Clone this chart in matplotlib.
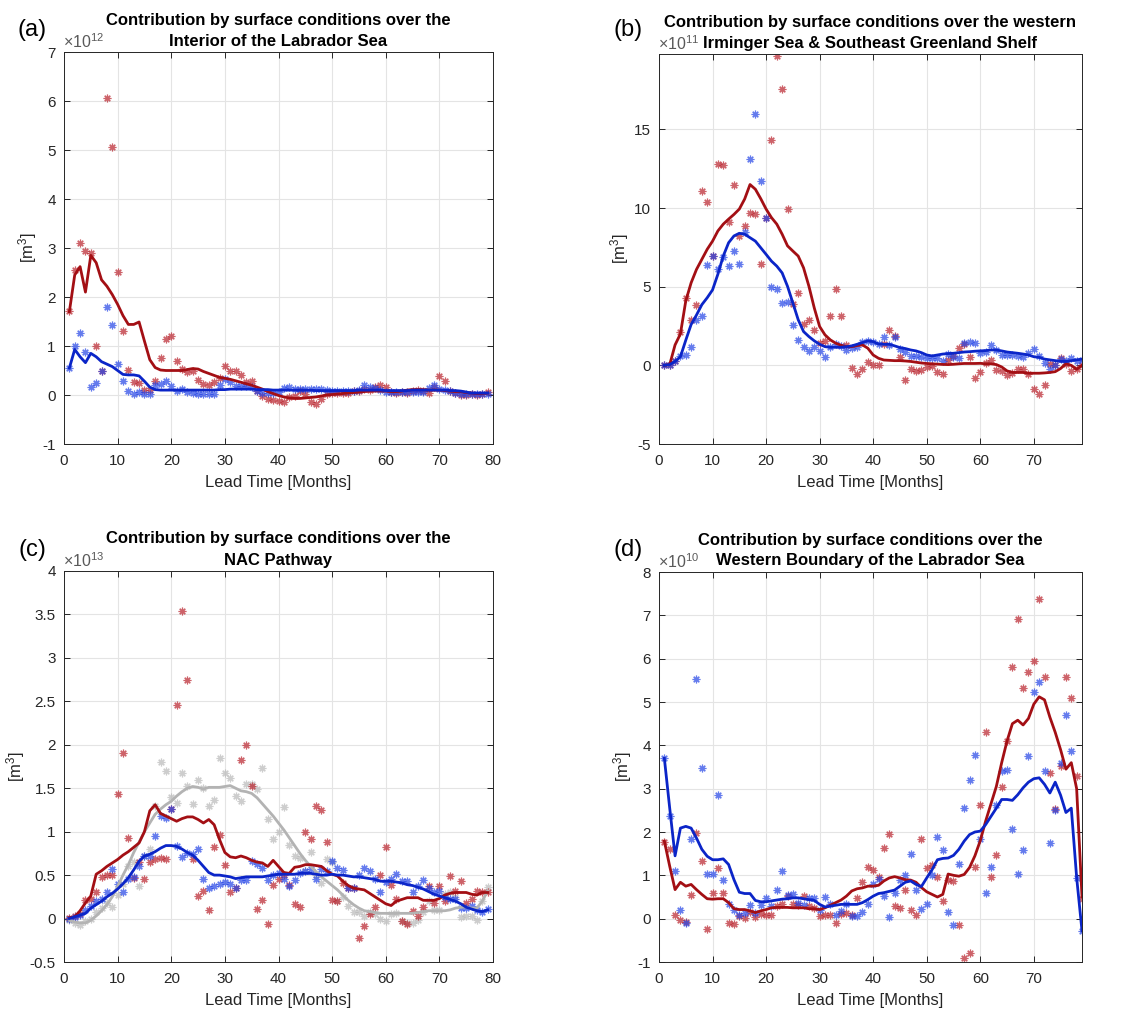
import numpy as np
import matplotlib
matplotlib.use("Agg")
import matplotlib.pyplot as plt

plt.rcParams["font.family"] = ["Liberation Sans", "DejaVu Sans"]
plt.rcParams["mathtext.fontset"] = "custom"
plt.rcParams["mathtext.rm"] = "Liberation Sans"
plt.rcParams["mathtext.it"] = "Liberation Sans:italic"
plt.rcParams["mathtext.bf"] = "Liberation Sans:bold"
plt.rcParams["axes.unicode_minus"] = False

# Lead time in months
lead = np.arange(1, 80)

# ---- (a) Interior of the Labrador Sea, values in 1e12 m^3 ----
a_red_pts = [1.72, 2.55, 3.10, 2.94, 2.89, 1.00, 0.50, 6.06, 5.07, 2.52,
             1.30, 0.51, 0.26, 0.24, 0.11, 0.10, 0.29, 0.75, 1.14, 1.20,
             0.69, 0.53, 0.46, 0.48, 0.30, 0.22, 0.21, 0.26, 0.34, 0.60,
             0.48, 0.49, 0.41, 0.26, 0.29, 0.09, -0.03, -0.09, -0.10, -0.12,
             -0.15, -0.05, -0.03, 0.09, 0.02, -0.15, -0.19, -0.08, 0.02, 0.05,
             0.04, 0.05, 0.05, 0.09, 0.09, 0.12, 0.11, 0.16, 0.21, 0.17,
             0.07, 0.05, 0.07, 0.05, 0.09, 0.11, 0.09, 0.05, 0.16, 0.38,
             0.29, 0.09, 0.04, 0.00, 0.00, 0.02, 0.01, 0.03, 0.06]
a_red_line = [1.70, 2.45, 2.62, 2.10, 2.85, 2.70, 2.35, 2.22, 2.05, 1.85,
              1.62, 1.44, 1.44, 1.49, 1.10, 0.72, 0.56, 0.51, 0.50, 0.50,
              0.50, 0.50, 0.52, 0.54, 0.53, 0.48, 0.44, 0.40, 0.36, 0.34,
              0.32, 0.29, 0.26, 0.23, 0.20, 0.16, 0.12, 0.07, 0.03, -0.01,
              -0.04, -0.06, -0.07, -0.07, -0.06, -0.05, -0.04, -0.02, 0.00, 0.01,
              0.02, 0.03, 0.04, 0.05, 0.06, 0.07, 0.08, 0.08, 0.08, 0.08,
              0.07, 0.07, 0.08, 0.10, 0.11, 0.11, 0.11, 0.10, 0.10, 0.10,
              0.09, 0.08, 0.07, 0.07, 0.05, 0.04, 0.03, 0.03, 0.04]
a_blue_pts = [0.55, 1.00, 1.27, 0.87, 0.17, 0.24, 0.50, 1.79, 1.43, 0.63,
              0.28, 0.09, 0.03, 0.07, 0.03, 0.03, 0.20, 0.23, 0.29, 0.19,
              0.08, 0.12, 0.07, 0.04, 0.03, 0.03, 0.03, 0.03, 0.21, 0.33,
              0.27, 0.19, 0.19, 0.19, 0.16, 0.09, 0.05, 0.04, 0.05, 0.07,
              0.14, 0.16, 0.13, 0.12, 0.13, 0.12, 0.13, 0.12, 0.10, 0.08,
              0.08, 0.08, 0.08, 0.08, 0.10, 0.20, 0.16, 0.15, 0.10, 0.06,
              0.06, 0.06, 0.06, 0.06, 0.06, 0.06, 0.07, 0.15, 0.20, 0.13,
              0.10, 0.08, 0.05, 0.02, 0.02, 0.02, 0.02, 0.02, 0.02]
a_blue_line = [0.55, 0.93, 0.78, 0.66, 0.85, 0.78, 0.68, 0.63, 0.58, 0.50,
               0.42, 0.41, 0.41, 0.39, 0.28, 0.16, 0.11, 0.10, 0.10, 0.10,
               0.10, 0.10, 0.10, 0.10, 0.10, 0.10, 0.10, 0.10, 0.11, 0.11,
               0.12, 0.12, 0.12, 0.12, 0.12, 0.11, 0.11, 0.11, 0.10, 0.10,
               0.10, 0.10, 0.10, 0.10, 0.10, 0.10, 0.09, 0.09, 0.09, 0.09,
               0.09, 0.09, 0.09, 0.09, 0.10, 0.10, 0.10, 0.10, 0.10, 0.09,
               0.09, 0.09, 0.09, 0.09, 0.10, 0.10, 0.10, 0.10, 0.10, 0.10,
               0.10, 0.09, 0.09, 0.08, 0.06, 0.04, 0.04, 0.04, 0.04]

# ---- (b) western Irminger Sea & SE Greenland Shelf, values in 1e11 m^3 ----
b_red_pts = [0.00, 0.00, 0.30, 2.10, 4.26, 2.86, 3.82, 11.07, 10.40, 6.97,
             12.80, 12.77, 9.10, 11.50, 8.25, 8.87, 9.72, 9.62, 6.44, 9.38,
             14.36, 19.70, 17.55, 9.95, 3.92, 4.63, 2.62, 2.88, 2.26, 1.41,
             1.56, 3.16, 4.88, 3.16, 1.30, -0.15, -0.58, -0.21, 0.21, 0.04,
             0.04, 1.36, 2.26, 1.88, 0.55, -0.90, -0.26, -0.34, -0.30, -0.13,
             -0.06, -0.40, -0.58, 0.34, 0.60, 1.09, 1.34, 0.51, -0.83, -0.40,
             0.13, 0.34, -0.30, -0.34, -0.62, -0.50, -0.26, -0.26, -0.58, -1.49,
             -1.83, -1.22, 0.10, 0.00, 0.45, 0.10, -0.35, -0.20, 0.00]
b_red_line = [0.00, 0.05, 1.30, 2.00, 4.10, 5.25, 6.10, 6.74, 7.38, 7.90,
              8.55, 8.98, 9.30, 9.60, 9.94, 10.58, 11.50, 11.20, 10.60, 9.94,
              9.40, 8.98, 8.34, 7.60, 7.27, 6.95, 6.20, 5.03, 3.65, 2.47,
              1.94, 1.62, 1.41, 1.28, 1.19, 1.19, 1.26, 1.30, 1.09, 0.66,
              0.45, 0.34, 0.32, 0.30, 0.30, 0.28, 0.25, 0.20, 0.15, 0.12,
              0.10, 0.08, 0.06, 0.05, 0.07, 0.10, 0.12, 0.12, 0.12, 0.13,
              0.10, 0.10, 0.05, -0.10, -0.35, -0.45, -0.45, -0.45, -0.50, -0.50,
              -0.50, -0.48, -0.45, -0.40, -0.20, 0.10, 0.00, -0.25, 0.00]
b_blue_pts = [0.00, 0.05, 0.30, 0.60, 0.66, 1.19, 2.90, 3.11, 6.38, 6.97,
              6.14, 6.90, 6.35, 7.27, 6.44, 8.49, 13.15, 15.96, 11.75, 9.38,
              5.00, 4.84, 3.97, 4.00, 2.54, 1.60, 1.15, 0.90, 1.15, 0.90,
              0.51, 1.19, 1.36, 1.24, 0.98, 1.09, 1.19, 1.51, 1.56, 1.51,
              1.36, 1.83, 1.30, 1.83, 1.02, 0.87, 0.60, 0.60, 0.55, 0.45,
              0.45, 0.45, 0.30, 0.70, 0.55, 0.45, 1.45, 1.47, 1.45, 0.77,
              0.87, 1.30, 0.98, 0.66, 0.66, 0.66, 0.60, 0.55, 0.77, 1.02,
              0.60, 0.17, -0.20, 0.05, 0.40, 0.25, 0.45, 0.30, 0.35]
b_blue_line = [0.00, 0.05, 0.25, 0.55, 1.60, 2.60, 3.20, 3.86, 4.30, 4.80,
               5.80, 6.95, 7.80, 8.23, 8.40, 8.34, 8.12, 7.90, 7.48, 7.06,
               6.63, 6.31, 5.88, 5.03, 3.97, 2.90, 2.15, 1.83, 1.56, 1.34,
               1.19, 1.15, 1.15, 1.15, 1.19, 1.24, 1.34, 1.45, 1.56, 1.51,
               1.36, 1.34, 1.34, 1.24, 1.13, 1.07, 0.98, 0.92, 0.81, 0.66,
               0.60, 0.66, 0.72, 0.75, 0.77, 0.81, 0.85, 0.87, 0.90, 0.92,
               0.94, 0.98, 0.98, 0.92, 0.85, 0.81, 0.77, 0.72, 0.66, 0.55,
               0.51, 0.40, 0.35, 0.30, 0.25, 0.25, 0.30, 0.35, 0.40]

# ---- (c) NAC Pathway, values in 1e13 m^3 ----
c_red_pts = [0.01, 0.03, 0.05, 0.21, 0.22, 0.30, 0.48, 0.50, 0.50, 1.43,
             1.91, 0.93, 0.47, 0.65, 0.45, 0.65, 0.68, 0.70, 0.69, 1.26,
             2.46, 3.54, 2.75, 0.68, 0.26, 0.32, 0.10, 0.82, 0.96, 0.62,
             0.31, 0.35, 1.82, 2.00, 1.52, 0.11, 0.21, -0.06, 0.39, 0.45,
             0.50, 0.39, 0.17, 0.13, 1.00, 0.91, 1.29, 1.25, 0.88, 0.21,
             0.20, 0.41, 0.35, 0.35, -0.22, -0.08, 0.05, 0.13, 0.50, 0.82,
             0.39, 0.22, -0.03, -0.06, 0.09, 0.03, 0.13, 0.38, 0.18, 0.38,
             0.20, 0.49, 0.32, 0.43, 0.18, 0.23, 0.32, 0.30, 0.30]
c_red_line = [0.01, 0.02, 0.09, 0.18, 0.26, 0.51, 0.55, 0.60, 0.64, 0.68,
              0.73, 0.77, 0.82, 0.87, 1.00, 1.24, 1.31, 1.21, 1.18, 1.15,
              1.12, 1.15, 1.17, 1.17, 1.14, 1.10, 1.14, 1.08, 0.91, 0.76,
              0.71, 0.70, 0.72, 0.70, 0.67, 0.65, 0.64, 0.60, 0.67, 0.60,
              0.53, 0.52, 0.59, 0.60, 0.62, 0.62, 0.61, 0.60, 0.55, 0.51,
              0.49, 0.43, 0.38, 0.35, 0.34, 0.33, 0.29, 0.25, 0.21, 0.17,
              0.15, 0.20, 0.22, 0.24, 0.24, 0.24, 0.21, 0.21, 0.21, 0.23,
              0.27, 0.29, 0.30, 0.30, 0.30, 0.28, 0.27, 0.30, 0.30]
c_blue_pts = [0.00, 0.02, 0.04, 0.10, 0.15, 0.20, 0.22, 0.30, 0.57, 0.40,
              0.31, 0.45, 0.48, 0.60, 0.72, 0.72, 0.95, 1.18, 1.16, 1.26,
              0.84, 0.71, 0.76, 0.74, 0.80, 0.45, 0.35, 0.37, 0.40, 0.42,
              0.40, 0.35, 0.44, 0.44, 0.66, 0.63, 0.58, 0.44, 0.50, 0.52,
              0.46, 0.37, 0.44, 0.53, 0.55, 0.57, 0.46, 0.57, 0.55, 0.66,
              0.58, 0.56, 0.35, 0.35, 0.50, 0.58, 0.55, 0.45, 0.30, 0.42,
              0.46, 0.51, 0.43, 0.43, 0.30, 0.38, 0.44, 0.35, 0.30, 0.32,
              0.25, 0.22, 0.22, 0.12, 0.12, 0.15, 0.10, 0.08, 0.11]
c_blue_line = [0.00, 0.02, 0.04, 0.06, 0.12, 0.16, 0.20, 0.25, 0.29, 0.34,
               0.40, 0.47, 0.56, 0.66, 0.72, 0.74, 0.77, 0.81, 0.84, 0.84,
               0.83, 0.80, 0.76, 0.73, 0.67, 0.60, 0.53, 0.50, 0.50, 0.49,
               0.48, 0.46, 0.47, 0.48, 0.48, 0.48, 0.48, 0.49, 0.50, 0.51,
               0.51, 0.51, 0.51, 0.52, 0.52, 0.52, 0.51, 0.50, 0.50, 0.51,
               0.50, 0.50, 0.49, 0.48, 0.48, 0.47, 0.46, 0.45, 0.43, 0.43,
               0.43, 0.42, 0.41, 0.39, 0.38, 0.36, 0.34, 0.31, 0.28, 0.26,
               0.24, 0.22, 0.20, 0.17, 0.13, 0.11, 0.09, 0.08, 0.10]
c_grey_pts = [-0.02, -0.05, -0.07, -0.03, 0.00, 0.08, 0.12, 0.18, 0.13, 0.27,
              0.40, 0.60, 0.65, 0.37, 0.72, 0.80, 1.30, 1.80, 1.70, 1.40,
              1.33, 1.67, 1.53, 1.32, 1.59, 1.50, 1.30, 1.37, 1.85, 1.68,
              1.62, 1.41, 1.35, 1.55, 1.55, 1.49, 1.73, 1.15, 0.92, 1.00,
              1.28, 0.85, 0.72, 0.70, 0.55, 0.77, 0.50, 0.41, 0.68, 0.65,
              0.20, 0.25, 0.15, 0.08, 0.08, 0.03, 0.08, 0.05, -0.01, -0.03,
              0.05, 0.06, -0.03, -0.05, -0.05, -0.02, 0.08, 0.20, 0.10, 0.10,
              0.28, 0.30, 0.25, 0.02, 0.03, 0.03, -0.02, 0.20, 0.36]
c_grey_line = [-0.02, -0.04, -0.05, -0.05, -0.02, 0.03, 0.09, 0.16, 0.25, 0.37,
               0.50, 0.62, 0.76, 0.88, 1.00, 1.10, 1.20, 1.26, 1.31, 1.35,
               1.41, 1.46, 1.50, 1.52, 1.51, 1.49, 1.51, 1.51, 1.51, 1.52,
               1.53, 1.50, 1.47, 1.46, 1.44, 1.39, 1.32, 1.25, 1.18, 1.10,
               1.02, 0.93, 0.84, 0.75, 0.67, 0.60, 0.54, 0.48, 0.43, 0.38,
               0.33, 0.27, 0.21, 0.16, 0.12, 0.09, 0.08, 0.07, 0.06, 0.06,
               0.06, 0.06, 0.06, 0.06, 0.06, 0.07, 0.08, 0.09, 0.09, 0.09,
               0.09, 0.10, 0.12, 0.13, 0.13, 0.12, 0.12, 0.20, 0.32]

# ---- (d) Western Boundary of the Labrador Sea, values in 1e10 m^3 ----
d_red_pts = [1.76, 1.60, 0.08, -0.02, -0.08, 0.54, 1.98, 1.34, -0.23, 0.60,
             1.17, 0.60, -0.09, -0.13, 0.06, 0.02, 0.15, 0.05, 0.10, 0.09,
             0.09, 0.29, 0.33, 0.52, 0.33, 0.31, 0.52, 0.29, 0.25, 0.06,
             0.09, 0.09, -0.11, 0.10, 0.14, 0.09, 0.48, 0.84, 1.19, 1.13,
             0.96, 1.62, 1.96, 0.29, 0.25, 0.67, 0.21, 0.09, 1.83, 1.17,
             1.25, 0.96, 0.41, 0.90, 0.87, -0.15, -0.90, -0.80, 1.20, 2.62,
             4.31, 0.97, 1.48, 3.04, 4.10, 5.80, 6.92, 5.33, 5.70, 5.95,
             7.37, 5.58, 3.37, 2.52, 3.52, 5.57, 5.10, 3.30, 0.46]
d_red_line = [1.79, 1.21, 0.67, 0.84, 0.75, 0.79, 0.67, 0.56, 0.46, 0.45,
              0.46, 0.46, 0.37, 0.23, 0.21, 0.21, 0.18, 0.14, 0.18, 0.21,
              0.25, 0.26, 0.26, 0.26, 0.25, 0.25, 0.25, 0.23, 0.23, 0.21,
              0.25, 0.31, 0.37, 0.43, 0.52, 0.64, 0.69, 0.71, 0.75, 0.75,
              0.77, 0.87, 0.94, 0.97, 0.94, 0.90, 0.89, 0.84, 0.72, 0.62,
              0.56, 0.50, 0.56, 1.03, 1.00, 0.98, 1.02, 1.18, 1.45, 1.80,
              2.25, 2.65, 3.05, 3.60, 4.10, 4.50, 4.58, 4.47, 4.62, 4.95,
              5.12, 5.05, 4.65, 4.30, 3.90, 3.45, 3.60, 3.00, 0.50]
d_blue_pts = [3.70, 2.38, 1.10, 0.20, -0.09, 1.84, 5.53, 3.48, 1.04, 1.04,
              2.86, 0.90, 0.35, 0.20, 0.08, 0.12, 0.31, 0.12, 0.31, 0.47,
              0.29, 0.67, 1.11, 0.54, 0.57, 0.37, 0.31, 0.48, 0.47, 0.20,
              0.50, 0.35, 0.08, 0.18, 0.33, 0.06, 0.06, 0.15, 0.35, 0.81,
              0.92, 0.52, 0.04, 0.60, 0.90, 1.00, 1.50, 0.66, 0.23, 0.35,
              1.00, 1.88, 1.59, 0.16, -0.15, 1.27, 2.56, 3.20, 3.78, 1.83,
              0.60, 1.20, 2.63, 3.40, 3.42, 2.06, 1.04, 1.58, 3.75, 5.22,
              5.47, 3.40, 1.75, 2.50, 3.60, 4.70, 3.87, 0.95, -0.28]
d_blue_line = [3.70, 2.55, 1.45, 2.09, 2.13, 2.09, 1.86, 1.60, 1.44, 1.36,
               1.36, 1.38, 1.25, 0.90, 0.61, 0.58, 0.58, 0.42, 0.39, 0.39,
               0.41, 0.43, 0.45, 0.46, 0.48, 0.48, 0.46, 0.44, 0.42, 0.33,
               0.27, 0.29, 0.31, 0.33, 0.33, 0.33, 0.33, 0.37, 0.44, 0.52,
               0.58, 0.60, 0.63, 0.66, 0.75, 0.84, 0.87, 0.79, 0.74, 0.94,
               1.13, 1.36, 1.39, 1.40, 1.46, 1.60, 1.79, 1.94, 2.00, 2.02,
               2.17, 2.36, 2.55, 2.75, 2.75, 2.73, 2.86, 3.02, 3.15, 3.23,
               3.25, 3.10, 2.90, 3.15, 2.85, 2.45, 2.55, 0.95, -0.28]

panel_tags = ["(a)", "(b)", "(c)", "(d)"]
title_lines = [
    ("Contribution by surface conditions over the", "Interior of the Labrador Sea"),
    ("Contribution by surface conditions over the western", "Irminger Sea & Southeast Greenland Shelf"),
    ("Contribution by surface conditions over the", "NAC Pathway"),
    ("Contribution by surface conditions over the", "Western Boundary of the Labrador Sea"),
]
exponents = [12, 11, 13, 10]

RED_LINE = "#a30f14"
RED_MARK = "#b8202a"
BLUE_LINE = "#0b25c8"
BLUE_MARK = "#2343e6"
GREY_LINE = "#b3b3b3"
GREY_MARK = "#b8b8b8"
TEXT = "#262626"
ASTERISK = (8, 2, 0)

fig = plt.figure(figsize=(11.26, 10.11), dpi=100)

W, H = 1126.0, 1011.0
boxes = [  # left, top, right, bottom in pixels
    (64, 52, 493, 444),
    (659, 54, 1082, 444),
    (64, 571, 493, 962),
    (659, 572, 1082, 962),
]
axes = []
for (l, t, r, b) in boxes:
    axes.append(fig.add_axes([l / W, 1 - b / H, (r - l) / W, (b - t) / H]))


def draw_points(ax, y, color):
    ax.plot(lead, y, linestyle="none", marker=ASTERISK, ms=5.5, mew=0.85,
            color=color, alpha=0.7, zorder=2)


def draw_curve(ax, y, color):
    ax.plot(lead, y, color=color, lw=2.0, zorder=3, solid_joinstyle="round")


ax = axes[0]
draw_points(ax, a_red_pts, RED_MARK)
draw_points(ax, a_blue_pts, BLUE_MARK)
draw_curve(ax, a_red_line, RED_LINE)
draw_curve(ax, a_blue_line, BLUE_LINE)
ax.set_xlim(0, 80)
ax.set_ylim(-1, 7)
ax.set_xticks(range(0, 81, 10))
ax.set_yticks(range(-1, 8))

ax = axes[1]
draw_points(ax, b_red_pts, RED_MARK)
draw_points(ax, b_blue_pts, BLUE_MARK)
draw_curve(ax, b_red_line, RED_LINE)
draw_curve(ax, b_blue_line, BLUE_LINE)
ax.set_xlim(0, 79)
ax.set_ylim(-5, 19.8)
ax.set_xticks(range(0, 71, 10))
ax.set_yticks([-5, 0, 5, 10, 15])

ax = axes[2]
draw_points(ax, c_grey_pts, GREY_MARK)
draw_points(ax, c_red_pts, RED_MARK)
draw_points(ax, c_blue_pts, BLUE_MARK)
draw_curve(ax, c_grey_line, GREY_LINE)
draw_curve(ax, c_red_line, RED_LINE)
draw_curve(ax, c_blue_line, BLUE_LINE)
ax.set_xlim(0, 80)
ax.set_ylim(-0.5, 4)
ax.set_xticks(range(0, 81, 10))
ax.set_yticks(np.arange(-0.5, 4.01, 0.5))
ax.set_yticklabels(["-0.5", "0", "0.5", "1", "1.5", "2", "2.5", "3", "3.5", "4"])

ax = axes[3]
draw_points(ax, d_red_pts, RED_MARK)
draw_points(ax, d_blue_pts, BLUE_MARK)
draw_curve(ax, d_red_line, RED_LINE)
draw_curve(ax, d_blue_line, BLUE_LINE)
ax.set_xlim(0, 79)
ax.set_ylim(-1, 8)
ax.set_xticks(range(0, 71, 10))
ax.set_yticks(range(-1, 9))

tag_pos = [(32, 30), (628, 30), (32, 550), (628, 550)]
for ax, (line1, line2), tag, ex, (tx, ty) in zip(axes, title_lines, panel_tags,
                                                 exponents, tag_pos):
    # two-line bold title, each line placed separately above the axes
    ax.annotate(line1, xy=(0.5, 1.0), xycoords="axes fraction",
                xytext=(0, 32), textcoords="offset pixels",
                ha="center", va="center", fontsize=12, fontweight="bold")
    ax.annotate(line2, xy=(0.5, 1.0), xycoords="axes fraction",
                xytext=(0, 11), textcoords="offset pixels",
                ha="center", va="center", fontsize=12, fontweight="bold")
    ax.set_xlabel("Lead Time [Months]", fontsize=12, color=TEXT, labelpad=5)
    ax.set_ylabel("[m$^3$]", fontsize=12, color=TEXT, labelpad=2)
    ax.grid(True, color="#e4e4e4", lw=0.8)
    ax.set_axisbelow(True)
    ax.tick_params(direction="in", top=True, right=True, length=4, width=0.7,
                   colors=TEXT, labelsize=11)
    ax.tick_params(axis="x", pad=7)
    ax.tick_params(axis="y", pad=6)
    for s in ax.spines.values():
        s.set_color(TEXT)
        s.set_linewidth(0.7)
    ax.annotate(r"$\times$10$^{%d}$" % ex, xy=(0.0, 1.0), xycoords="axes fraction",
                xytext=(-1, 1), textcoords="offset pixels",
                ha="left", va="bottom", fontsize=11.5, color="#595959")
    fig.text(tx / W, 1 - ty / H, tag, ha="center", va="center",
             fontsize=17, color="black")

fig.savefig("out.png", dpi=100, facecolor="white")
